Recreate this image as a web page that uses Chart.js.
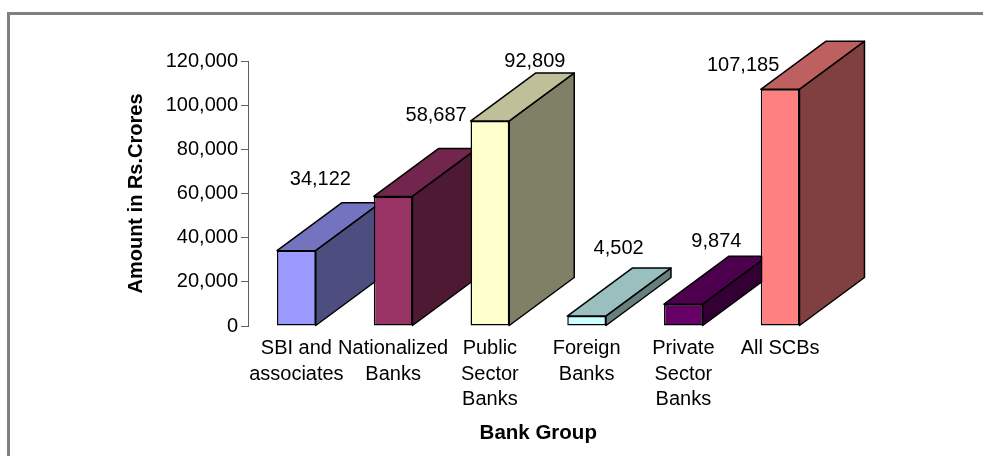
<!DOCTYPE html>
<html>
<head>
<meta charset="utf-8">
<title>Bank Group</title>
<script src="https://cdn.jsdelivr.net/npm/chart.js@4/dist/chart.umd.min.js"></script>
<style>
    html, body { margin: 0; padding: 0; background: #fff; overflow: hidden; }
    #wrap { position: relative; width: 983px; height: 456px; }
    #frame { position: absolute; left: 7px; top: 12px; right: 0; bottom: 0; border-left: 3px solid #808080; border-top: 3px solid #808080; }
    #myChart { position: absolute; left: 0; top: 0; }
</style>
</head>
<body>
<div id="wrap">
    <div id="frame"></div>
    <canvas id="myChart" width="983" height="456"></canvas>
</div>
<script>
const categories = [
    ['SBI and', 'associates'],
    ['Nationalized', 'Banks'],
    ['Public', 'Sector', 'Banks'],
    ['Foreign', 'Banks'],
    ['Private', 'Sector', 'Banks'],
    ['All SCBs']
]
const amounts = [34122, 58687, 92809, 4502, 9874, 107185]

const frontColors = ['#9999FF', '#993366', '#FFFFCC', '#CCFFFF', '#660066', '#FF8080']
const topColors = ['#7373BF', '#73264D', '#BFBF99', '#99BFBF', '#4D004D', '#BF6060']
const sideColors = ['#4D4D80', '#4D1933', '#808066', '#668080', '#330033', '#804040']

// value labels sit by hand next to each block, offset from the top of the front face
const labelOffsets = [[24, -71], [43, -81], [45, -60], [32, -68], [33, -63], [-37, -24]]

const depthX = 65
const depthY = -48
const textFont = '"Liberation Sans", Arial, sans-serif'

function face(ctx, points, fill) {
    ctx.beginPath()
    points.forEach((p, i) => i ? ctx.lineTo(p[0], p[1]) : ctx.moveTo(p[0], p[1]))
    ctx.closePath()
    ctx.fillStyle = fill
    ctx.fill()
    ctx.stroke()
}

// top and right faces go under the fronts, so each front hides the block before it
const blockDepth = {
    id: 'blockDepth',
    beforeDatasetsDraw(chart) {
        const ctx = chart.ctx
        ctx.save()
        ctx.strokeStyle = '#000'
        ctx.lineWidth = 1.5
        ctx.lineJoin = 'round'
        chart.getDatasetMeta(0).data.forEach((bar, i) => {
            const left = bar.x - bar.width / 2
            const right = bar.x + bar.width / 2
            face(ctx, [[left, bar.y], [right, bar.y], [right + depthX, bar.y + depthY], [left + depthX, bar.y + depthY]], topColors[i])
            face(ctx, [[right, bar.y], [right + depthX, bar.y + depthY], [right + depthX, bar.base + depthY], [right, bar.base]], sideColors[i])
        })
        ctx.restore()
    }
}

const valueLabels = {
    id: 'valueLabels',
    afterDatasetsDraw(chart) {
        const ctx = chart.ctx
        ctx.save()
        ctx.font = '20px ' + textFont
        ctx.fillStyle = '#000'
        ctx.textAlign = 'center'
        ctx.textBaseline = 'middle'
        chart.getDatasetMeta(0).data.forEach((bar, i) => {
            ctx.fillText(amounts[i].toLocaleString('en-US'), bar.x + labelOffsets[i][0], bar.y + labelOffsets[i][1])
        })
        ctx.restore()
    }
}

const ctx = document.getElementById('myChart').getContext('2d')

new Chart(ctx, {
    type: 'bar',
    data: {
        labels: categories,
        datasets: [{
            label: 'Amount in Rs.Crores',
            data: amounts,
            backgroundColor: frontColors,
            borderColor: '#000',
            borderWidth: 1.5,
            borderSkipped: false,
            categoryPercentage: 1,
            barPercentage: 0.4
        }]
    },
    options: {
        responsive: false,
        animation: false,
        layout: { padding: { left: 124, right: 154.5, top: 61, bottom: 10 } },
        plugins: {
            legend: { display: false },
            title: { display: false },
            tooltip: { enabled: false }
        },
        scales: {
            x: {
                afterFit: (scale) => { scale.height = 120 },
                grid: { display: false },
                border: { display: false },
                ticks: {
                    autoSkip: false,
                    maxRotation: 0,
                    color: '#000',
                    padding: 2,
                    font: { family: textFont, size: 20, lineHeight: 1.27 }
                },
                title: {
                    display: true,
                    text: 'Bank Group',
                    color: '#000',
                    padding: 0,
                    font: { family: textFont, size: 20.5, weight: 'bold' }
                }
            },
            y: {
                min: 0,
                max: 120000,
                afterFit: (scale) => { scale.width = 124 },
                grid: { drawOnChartArea: false, tickLength: 7, tickColor: '#606060' },
                border: { color: '#606060', width: 1 },
                ticks: {
                    stepSize: 20000,
                    color: '#000',
                    padding: 3,
                    font: { family: textFont, size: 20 },
                    callback: (value) => value.toLocaleString('en-US')
                },
                title: {
                    display: true,
                    text: 'Amount in Rs.Crores',
                    color: '#000',
                    padding: 0,
                    font: { family: textFont, size: 20, weight: 'bold' }
                }
            }
        }
    },
    plugins: [blockDepth, valueLabels]
})
</script>
</body>
</html>
